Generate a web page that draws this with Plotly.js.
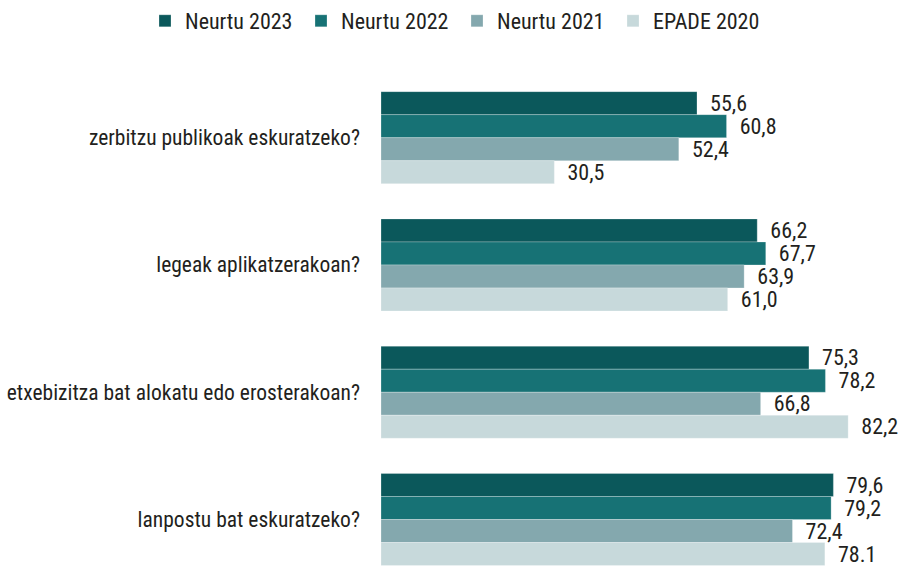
<!DOCTYPE html>
<html><head><meta charset="utf-8">
<script src="https://cdn.plot.ly/plotly-3.0.1.min.js"></script>
<style>html,body{margin:0;padding:0;background:#fff}</style>
</head><body>
<div id="chart" style="width:905px;height:566px"></div>
<script>
const categories = ["zerbitzu publikoak eskuratzeko?","legeak aplikatzerakoan?","etxebizitza bat alokatu edo erosterakoan?","lanpostu bat eskuratzeko?"];
const seriesNames = ["Neurtu 2023","Neurtu 2022","Neurtu 2021","EPADE 2020"];
const v2023 = [55.6, 66.2, 75.3, 79.6];
const v2022 = [60.8, 67.7, 78.2, 79.2];
const v2021 = [52.4, 63.9, 66.8, 72.4];
const v2020 = [30.5, 61.0, 82.2, 78.1];
const labels2023 = ["55,6","66,2","75,3","79,6"];
const labels2022 = ["60,8","67,7","78,2","79,2"];
const labels2021 = ["52,4","63,9","66,8","72,4"];
const labels2020 = ["30,5","61,0","82,2","78.1"];
const colors = ["#0b585b","#177275","#84a8ae","#c7d9db"];

const FONT = "'Liberation Sans Narrow', 'Roboto Condensed', 'Arial Narrow', sans-serif";
const vals = [v2023, v2022, v2021, v2020];
const labs = [labels2023, labels2022, labels2021, labels2020];
const traces = vals.map((v, i) => ({
  type: 'bar', orientation: 'h', name: seriesNames[i],
  y: categories, x: v, text: labs[i],
  texttemplate: '  %{text}', textposition: 'outside', cliponaxis: false,
  constraintext: 'none',
  textfont: {family: FONT, size: 22, color: '#231f20'},
  marker: {color: colors[i], line: {color: 'rgba(255,255,255,0.5)', width: 0.5}},
  hoverinfo: 'none'
}));
const x0 = 381, W = 905;
const layout = {
  width: W, height: 566,
  margin: {l: 0, r: 0, t: 74, b: 0},
  barmode: 'group', bargap: 0.277, bargroupgap: 0,
  paper_bgcolor: '#fff', plot_bgcolor: '#fff',
  font: {family: FONT, size: 21, color: '#231f20'},
  xaxis: {domain: [x0 / W, 1], range: [0, 92.2], visible: false, fixedrange: true},
  yaxis: {type: 'category', range: [3.365, -0.5], showgrid: false, zeroline: false,
          showline: false, ticks: '', ticklabelstandoff: 20, automargin: false,
          tickfont: {family: FONT, size: 21.5, color: '#231f20'}},
  showlegend: true,
  legend: {orientation: 'h', xref: 'container', yref: 'container', x: 0.505, xanchor: 'center',
           y: 1, yanchor: 'top', font: {family: FONT, size: 22, color: '#231f20'},
           entrywidth: 111, entrywidthmode: 'pixels',
           traceorder: 'normal', itemclick: false}
};
Plotly.newPlot('chart', traces, layout, {displayModeBar: false, staticPlot: true});
</script>
</body></html>
